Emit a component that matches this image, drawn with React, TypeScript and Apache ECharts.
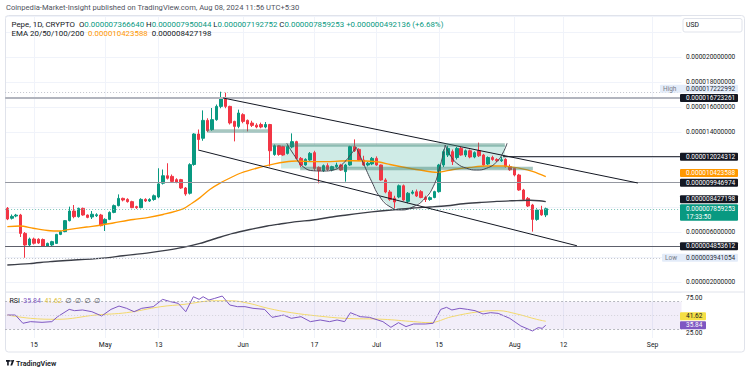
import React, { useEffect, useRef } from 'react';
import * as echarts from 'echarts';

const FONT = 'Roboto, "Noto Sans", "DejaVu Sans", sans-serif';
const UP = '#089981';
const DOWN = '#f23645';
const ORANGE = '#ff9800';
const DARK = '#131722';
const ZONE = '#cfebe6';
const BAND = 'rgba(60,130,115,0.45)';

// Daily candles, price in 1e-6 USD: [open, high, low, close], from 2024-04-09
const ohlc: number[][] = [
  // April
  [7.89, 8.0, 6.95, 7.04], [7.1, 7.4, 7.0, 7.25], [7.28, 7.45, 7.18, 7.35], [7.36, 7.45, 5.6, 5.89],
  [5.89, 6.0, 3.941054, 4.96], [4.96, 5.55, 4.85, 5.44], [5.44, 5.55, 5.0, 5.1], [5.42, 5.5, 5.05, 5.12],
  [5.4, 5.48, 4.8, 4.88], [4.88, 5.15, 4.8, 5.09], [4.96, 5.3, 4.85, 5.23], [5.09, 5.85, 5.05, 5.81],
  [5.81, 6.1, 5.75, 6.03], [6.03, 6.95, 5.98, 6.91], [6.91, 8.03, 6.85, 7.68], [7.68, 8.16, 7.1, 7.23],
  [7.23, 7.95, 7.15, 7.89], [7.89, 7.95, 7.3, 7.36], [7.36, 7.4, 7.1, 7.17], [7.2, 7.68, 7.04, 7.42],
  [7.3, 7.5, 7.2, 7.38], [7.36, 7.45, 6.45, 6.51],
  // May
  [6.69, 7.1, 6.08, 7.01], [7.01, 7.65, 6.95, 7.57], [7.57, 8.2, 7.5, 8.11], [8.11, 9.01, 8.05, 8.69],
  [8.69, 8.75, 8.45, 8.56], [8.61, 8.7, 8.35, 8.43], [8.43, 8.5, 7.9, 7.95], [8.03, 8.1, 7.85, 7.95],
  [7.95, 8.7, 7.9, 8.61], [8.61, 8.7, 8.4, 8.48], [8.48, 8.7, 8.4, 8.6], [8.6, 9.0, 8.5, 8.9],
  [8.8, 11.1, 8.7, 9.85], [9.9, 11.0, 9.8, 10.5], [10.5, 11.5, 10.2, 10.3], [10.45, 10.6, 9.95, 10.05],
  [10.19, 10.3, 9.9, 9.97], [10.19, 10.25, 9.45, 9.52], [9.52, 9.6, 8.9, 9.04], [9.1, 11.5, 9.0, 11.39],
  [11.4, 13.9, 11.3, 13.84], [13.84, 14.2, 12.6, 13.4], [13.5, 15.73, 13.3, 14.93], [14.93, 15.1, 14.0, 14.11],
  [14.19, 15.92, 14.1, 14.99], [14.99, 16.2, 14.9, 16.05], [16.05, 17.222992, 15.9, 16.72], [16.67, 17.15, 15.9, 16.05],
  [16.05, 16.1, 14.6, 14.72], [14.85, 14.9, 13.25, 14.45], [14.45, 15.79, 14.3, 15.52],
  // June
  [15.39, 15.5, 14.7, 14.85], [14.93, 15.0, 14.05, 14.64], [14.72, 14.9, 14.4, 14.53], [14.55, 14.7, 14.3, 14.4],
  [14.6, 14.75, 14.3, 14.4], [14.4, 14.8, 14.3, 14.6], [14.6, 14.65, 11.25, 12.5], [12.2, 13.0, 12.1, 12.9],
  [12.9, 12.95, 12.1, 12.2], [12.83, 12.9, 12.1, 12.16], [12.29, 12.95, 12.2, 12.83], [12.8, 13.89, 12.7, 13.23],
  [13.23, 13.3, 11.8, 11.89], [11.89, 12.0, 11.2, 11.36], [11.36, 11.9, 11.3, 11.81], [11.76, 12.4, 11.7, 12.29],
  [12.35, 12.5, 10.9, 11.09], [11.17, 11.25, 9.89, 10.91], [10.91, 11.4, 10.8, 11.31], [11.31, 11.5, 10.9, 11.0],
  [10.96, 11.3, 10.85, 11.23], [11.23, 11.55, 11.1, 11.36], [11.36, 11.45, 10.9, 10.96], [10.83, 11.45, 10.03, 11.36],
  [11.36, 12.9, 11.3, 12.83], [12.83, 13.41, 12.4, 12.5], [12.61, 12.7, 11.7, 11.76], [11.76, 12.1, 11.3, 11.36],
  [11.36, 11.6, 11.25, 11.5], [11.45, 12.0, 11.35, 11.89],
  // July
  [11.89, 12.05, 11.3, 11.36], [11.36, 11.4, 10.1, 10.16], [10.16, 10.3, 9.1, 9.2], [9.2, 9.36, 8.5, 8.6],
  [8.7, 8.9, 7.9, 8.4], [8.8, 9.8, 8.7, 9.7], [9.7, 9.8, 8.5, 8.56], [8.45, 9.2, 8.3, 9.1],
  [9.1, 9.35, 9.0, 9.2], [9.22, 9.4, 8.8, 8.88], [9.23, 9.35, 8.7, 8.76], [8.76, 8.9, 8.4, 8.6],
  [8.6, 8.85, 8.5, 8.75], [8.76, 9.3, 8.7, 9.23], [9.23, 11.45, 9.15, 11.36], [11.36, 12.6, 11.2, 12.43],
  [12.16, 12.9, 12.0, 12.69], [12.43, 12.6, 11.36, 11.63], [11.96, 12.8, 11.8, 12.69], [12.69, 12.8, 12.1, 12.16],
  [12.16, 12.6, 12.0, 12.5], [12.5, 12.6, 11.9, 12.0], [12.0, 12.45, 11.9, 12.35], [12.5, 13.15, 12.0, 12.1],
  [12.16, 12.25, 11.3, 11.36], [11.44, 12.05, 11.35, 11.96], [11.96, 12.1, 11.7, 11.8], [11.8, 11.9, 11.6, 11.7],
  [11.7, 12.0, 11.6, 11.78], [11.81, 11.9, 11.15, 11.23], [11.23, 11.4, 10.9, 10.98],
  // August
  [11.09, 11.2, 10.45, 10.56], [10.56, 10.65, 9.3, 9.36], [9.36, 9.45, 8.55, 8.61], [8.69, 8.8, 8.0, 8.08],
  [8.16, 8.25, 6.03, 7.01], [7.01, 7.9, 6.9, 7.76], [7.76, 8.1, 7.3, 7.367117],
  [7.36664, 7.950044, 7.192752, 7.859253],
];

const START = [2024, 3, 9];
const DAYS = 152;
const tickDates = ['2024-04-15', '2024-05-01', '2024-05-13', '2024-06-01', '2024-06-17', '2024-07-01', '2024-07-15', '2024-08-01', '2024-08-12', '2024-09-01'];
const tickLabels = ['15', 'May', '13', 'Jun', '17', 'Jul', '15', 'Aug', '12', 'Sep'];
const priceTicks = [2, 6, 14, 16, 18, 20];
const rsiTicks = [25, 75];

// [day index, value]
const ema50Pts = [
  [0, 6.43], [2.9, 6.48], [5.8, 6.3], [9.6, 6.1], [11.8, 6.08], [13.3, 6.17], [17.8, 6.4], [20.8, 6.54],
  [23.8, 6.72], [28.3, 7.0], [31.5, 7.15], [35, 7.4], [39.5, 7.85], [41.5, 8.3], [43.3, 8.75], [45.5, 9.4],
  [48, 9.95], [50.5, 10.4], [52.5, 10.72], [56, 11.1], [60, 11.45], [62.4, 11.6], [65, 11.68], [68.7, 11.63],
  [71.8, 11.63], [74.8, 11.68], [77.5, 11.7], [80.5, 11.68], [83.5, 11.6], [86, 11.4], [88.5, 11.22],
  [92.7, 10.96], [96.6, 10.77], [100.2, 11.0], [104, 11.17], [107.7, 11.28], [111.5, 11.28], [115.2, 11.09],
  [118.2, 10.83], [121, 10.423588],
];
const ema200Pts = [
  [0, 3.36], [5, 3.47], [9.6, 3.63], [13.3, 3.72], [20.8, 3.89], [26, 4.1], [32.1, 4.35], [36, 4.55],
  [39.5, 4.77], [43.3, 5.09], [47, 5.5], [50.7, 5.89], [54.5, 6.2], [58.4, 6.48], [61.3, 6.64], [65, 6.83],
  [68.7, 6.96], [72.5, 7.18], [76.3, 7.36], [80, 7.53], [83.8, 7.68], [87.5, 7.8], [91.2, 7.92], [95, 8.0],
  [98.8, 8.1], [102.5, 8.26], [106.2, 8.36], [110, 8.45], [113.6, 8.5], [117.5, 8.54], [119.5, 8.5], [121, 8.427198],
];
const rsiPts = [
  [0, 50.7], [1.8, 50.7], [3.5, 38.7], [5.2, 41.1], [7.8, 40.1], [10, 41.1], [11.3, 48.3], [13.9, 58.9],
  [15.1, 57], [16.9, 58], [19, 55.5], [21.2, 49.3], [23.3, 58.9], [25.1, 63.7], [26.8, 60.4], [28.5, 55.5],
  [30.2, 60.4], [32.8, 62.8], [34.9, 73.4], [36.7, 70], [38.4, 67.6], [40.1, 55.5], [41.8, 77.2], [43.1, 73.4],
  [44, 77.2], [45.3, 72.4], [46.6, 74.8], [48.3, 78.2], [50, 65.2], [51.7, 62.8], [53.4, 62.8], [55.2, 60.4],
  [57.8, 58.9], [59.5, 47.3], [62.1, 50.7], [63.8, 45.9], [66, 48.3], [68.1, 41.1], [70.3, 43.5], [72.4, 41.1],
  [74.1, 43.5], [75.8, 41.1], [77.1, 54.1], [79.3, 48.3], [81.4, 47.3], [84.4, 41.1], [86.2, 32.9], [87.9, 39.6],
  [89.6, 33.9], [91.3, 37.7], [93.9, 37.7], [95.7, 38.7], [97.4, 58.9], [98.7, 61.8], [99.9, 58], [101.7, 60.4],
  [103.4, 58.9], [105.1, 57], [106.9, 52.2], [108.6, 54.1], [110.3, 53.1], [112.9, 45.9], [115.4, 34.8],
  [118, 27.6], [119.3, 32.4], [120.2, 31.4], [121, 35.84],
];
const rsiMaPts = [
  [0, 50.7], [5.2, 45.9], [11.3, 44.5], [19.9, 50.7], [26.8, 54.1], [34.5, 62.8], [39.7, 66.1], [46.6, 71.4],
  [50, 71.4], [54.3, 67.6], [58.6, 60.4], [63.8, 54.1], [69.8, 49.3], [75.8, 45.9], [84.4, 44.5], [91.3, 41.1],
  [94.8, 39.6], [99.9, 48.3], [106, 55.5], [110.3, 57], [114.5, 52.2], [118.9, 44.5], [121, 41.62],
];

// drawings, [day index, price]
const upperChannel = [[48.5, 16.72], [141.7, 9.92]];
const lowerChannel = [[42.9, 12.56], [128, 4.9]];
const smallCup = [[62.8, 13.1], [64.7, 12.02], [66.5, 11.22], [68.8, 10.9], [71.0, 10.88], [73.3, 10.96], [75.5, 11.5], [77.4, 12.3], [78.4, 12.78]];
const bigCup = [[78.4, 12.78], [80.0, 11.5], [81.9, 10.02], [83.7, 8.82], [86.0, 8.02], [88.6, 7.76], [91.2, 8.02], [93.5, 8.56], [95.7, 9.62], [97.2, 11.22], [98.0, 12.3], [98.4, 12.96]];
const handleCup = [[98.4, 12.96], [99.5, 12.16], [101.0, 11.5], [103.2, 11.1], [105.5, 10.96], [107.7, 11.1], [110.0, 11.62], [111.5, 12.42], [112.3, 13.1]];
const zoneRect = [61.5, 111.8, 12.96, 11.08];
const bands = [[44.9, 58.6, 14.08], [59.5, 111.8, 12.96], [65.8, 118.1, 11.08]];

const levelHigh = 17.222992;
const levelR1 = 16.723261;
const levelR2 = 12.024312;
const levelR2Start = 111.4;
const levelS1 = 9.946974;
const levelS2 = 4.853612;
const levelLow = 3.941054;
const ema50Last = 10.423588;
const ema200Last = 8.427198;
const rsiLast = 35.84;
const rsiMaLast = 41.62;
const clock = '17:33:50';

const fmt = (v: number) => (v * 1e-6).toFixed(12);

echarts.graphic.registerShape(
  'tvlogo',
  echarts.graphic.extendPath(
    'M0 0H6.5V2.8H4.6V9H1.9V2.8H0Z M10.6 0H13.8L10.3 9H7.2Z M9.9 1.4a1.4 1.4 0 1 1-2.8 0a1.4 1.4 0 1 1 2.8 0Z',
    {}
  )
);

export default function App() {
  const ref = useRef<HTMLDivElement>(null);
  useEffect(() => {
    document.body.style.margin = '0';
    const chart = echarts.init(ref.current!, undefined, { renderer: 'svg' });
    const dates = Array.from({ length: DAYS }, (_, i) =>
      new Date(Date.UTC(START[0], START[1], START[2] + i)).toISOString().slice(0, 10)
    );
    const tickIdx = tickDates.map((d) => dates.indexOf(d));
    const candles = ohlc.map(([o, h, l, c]) => [o, c, l, h]);
    const last = ohlc[ohlc.length - 1];
    const prevClose = ohlc[ohlc.length - 2][3];
    const chg = last[3] - prevClose;
    const L = 5.1;
    const W = 676.4;
    const thinLine = (data: number[][], color: string, width = 1, smooth: number | boolean = false, z = 5) => ({
      type: 'line', xAxisIndex: 1, yAxisIndex: 0, data, smooth, showSymbol: false, symbol: 'none', silent: true, z,
      lineStyle: { color, width },
    });
    const valueX = (grid: number) => ({
      type: 'value', gridIndex: grid, min: -0.5, max: DAYS - 0.5,
      axisLine: { show: false }, axisLabel: { show: false },
      axisTick: { show: false, customValues: tickIdx },
      splitLine: { show: true, lineStyle: { color: '#f0f3fa', width: 1 } },
    });

    const option: any = {
      animation: false,
      grid: [
        { left: L, top: 16, width: W, height: 276 },
        { left: L, top: 292, width: W, height: 46 },
      ],
      xAxis: [
        { type: 'category', gridIndex: 0, data: dates, axisLine: { show: false }, axisTick: { show: false }, axisLabel: { show: false }, splitLine: { show: false } },
        valueX(0),
        {
          type: 'category', gridIndex: 1, data: dates, axisLine: { show: false }, axisTick: { show: false }, splitLine: { show: false },
          axisLabel: {
            interval: (_i: number, v: string) => tickDates.includes(v),
            formatter: (v: string) => tickLabels[tickDates.indexOf(v)] ?? '',
            fontSize: 6.8, color: DARK, margin: 3.5, fontFamily: FONT,
          },
        },
        valueX(1),
      ],
      yAxis: [
        {
          type: 'value', gridIndex: 0, position: 'right', min: 1.2, max: 23.28, splitNumber: 11,
          axisLine: { show: false }, axisTick: { show: false },
          axisLabel: { customValues: priceTicks, formatter: (v: number) => fmt(v), fontSize: 6.5, color: DARK, margin: 4.5, align: 'left', fontFamily: FONT },
          splitLine: { lineStyle: { color: '#f0f3fa', width: 1 } },
        },
        {
          type: 'value', gridIndex: 1, position: 'right', min: 17.39, max: 84.06,
          axisLine: { show: false }, axisTick: { show: false },
          axisLabel: { customValues: rsiTicks, formatter: (v: number) => v.toFixed(2), fontSize: 6.5, color: DARK, margin: 4.5, align: 'left', fontFamily: FONT },
          splitLine: { show: false },
        },
      ],
      series: [
        {
          type: 'custom', xAxisIndex: 1, yAxisIndex: 0, data: [[0, 12]], silent: true, z: 1,
          renderItem: (_p: any, api: any) => {
            const [x0, x1, top, bottom] = zoneRect;
            const rect = [[x0, top], [x1, top], [x1, bottom], [x0, bottom]].map((p) => api.coord(p));
            const cup = bigCup.map((p) => api.coord(p));
            return {
              type: 'group',
              children: [
                { type: 'polygon', shape: { points: rect }, style: { fill: ZONE } },
                { type: 'polygon', shape: { points: cup }, style: { fill: ZONE } },
              ],
            };
          },
        },
        {
          type: 'candlestick', xAxisIndex: 0, yAxisIndex: 0, data: candles, barWidth: 3, z: 3, silent: true,
          itemStyle: { color: UP, color0: DOWN, borderColor: UP, borderColor0: DOWN, borderWidth: 1 },
        },
        {
          ...thinLine(ema200Pts, '#3b3e47', 1.4, 0.3, 4),
          markLine: {
            symbol: ['none', 'none'], silent: true, label: { show: false },
            data: [
              { yAxis: levelHigh, lineStyle: { color: '#c1c4cd', type: [1, 2], width: 1 } },
              { yAxis: levelR1, lineStyle: { color: '#b2b5be', type: 'solid', width: 2 } },
              { yAxis: levelS1, lineStyle: { color: '#9598a1', type: 'solid', width: 1 } },
              { yAxis: levelS2, lineStyle: { color: '#5d606b', type: 'solid', width: 1 } },
              { yAxis: levelLow, lineStyle: { color: '#c1c4cd', type: [1, 2], width: 1 } },
              { yAxis: last[3], lineStyle: { color: '#7cc4b8', type: [1, 2], width: 1 } },
            ],
          },
        },
        thinLine(ema50Pts, ORANGE, 1.3, 0.3, 4),
        thinLine([[levelR2Start, levelR2], [DAYS - 0.5, levelR2]], DARK, 1),
        thinLine(upperChannel, DARK, 1),
        thinLine(lowerChannel, DARK, 1),
        ...bands.map(([a, b, v]) => thinLine([[a, v], [b, v]], BAND, 3.5)),
        thinLine(smallCup, '#434651', 1, 0.5, 6),
        thinLine(bigCup, '#434651', 1, 0.5, 6),
        thinLine(handleCup, '#434651', 1, 0.5, 6),
        {
          type: 'line', xAxisIndex: 3, yAxisIndex: 1, data: rsiMaPts, smooth: 0.4, showSymbol: false, symbol: 'none', silent: true, z: 3,
          lineStyle: { color: '#f3d96b', width: 1 },
          markArea: { silent: true, itemStyle: { color: 'rgba(126,87,194,0.1)' }, data: [[{ yAxis: 30 }, { yAxis: 70 }]] },
          markLine: {
            symbol: ['none', 'none'], silent: true, label: { show: false },
            data: [
              { yAxis: 70, lineStyle: { color: '#a3a6af', type: [2, 2], width: 0.8 } },
              { yAxis: 50, lineStyle: { color: '#c9cbd2', type: [1, 2], width: 0.8 } },
              { yAxis: 30, lineStyle: { color: '#a3a6af', type: [2, 2], width: 0.8 } },
            ],
          },
        },
        {
          type: 'line', xAxisIndex: 3, yAxisIndex: 1, data: rsiPts, showSymbol: false, symbol: 'none', silent: true, z: 4,
          lineStyle: { color: '#7e57c2', width: 1 },
        },
      ],
    };
    chart.setOption(option);

    const py = (v: number) => chart.convertToPixel({ yAxisIndex: 0 }, v) as unknown as number;
    const ry = (v: number) => chart.convertToPixel({ yAxisIndex: 1 }, v) as unknown as number;
    const txt = (x: number, y: number, text: string, fill: string, size = 6.5, extra: any = {}) => ({
      type: 'text', x, y, z: 101, silent: true,
      style: { text, fill, fontSize: size, fontFamily: FONT, verticalAlign: 'middle', align: 'left', ...extra },
    });
    const box = (y: number, text: string, bg: string, fg: string, x0 = 680, w = 58, h = 8) => [
      { type: 'rect', z: 100, silent: true, shape: { x: x0, y: y - h / 2, width: w, height: h, r: 1 }, style: { fill: bg } },
      txt(686, y, text, fg),
    ];
    const yHigh = py(levelHigh) - 3;
    const yLow = py(levelLow);
    const yLast = py(last[3]);
    const rich = (size: number) => ({
      d: { fill: DARK, fontSize: size, fontFamily: FONT },
      g: { fill: UP, fontSize: size, fontFamily: FONT },
      o: { fill: ORANGE, fontSize: size, fontFamily: FONT },
      p: { fill: '#7e57c2', fontSize: size, fontFamily: FONT },
      y: { fill: '#e0c23a', fontSize: size, fontFamily: FONT },
      m: { fill: '#50535e', fontSize: size, fontFamily: FONT },
    });
    const headerLine2 =
      `{d|Pepe, 1D, CRYPTO}  {d|O}{g|${fmt(last[0])}} {d|H}{g|${fmt(last[1])}} {d|L}{g|${fmt(last[2])}} {d|C}{g|${fmt(last[3])}} ` +
      `{g|+${fmt(chg)} (+${((chg / prevClose) * 100).toFixed(2)}%)}`;
    const headerLine3 = `{d|EMA 20/50/100/200}  {o|${fmt(ema50Last)}}  {d|${fmt(ema200Last)}}`;
    const rsiLegend = `{d|RSI}  {p|${rsiLast.toFixed(2)}}  {y|${rsiMaLast.toFixed(2)}}  {m|∅  ∅  ∅  ∅}`;

    const graphic: any[] = [
      { type: 'rect', silent: true, z: 0, shape: { x: 5.5, y: 15.5, width: 739, height: 336.5, r: 3 }, style: { fill: 'none', stroke: '#e0e3eb', lineWidth: 1 } },
      { type: 'line', silent: true, z: 0, shape: { x1: 5.5, y1: 292, x2: 744.5, y2: 292 }, style: { stroke: '#e0e3eb', lineWidth: 1 } },
      txt(6, 7.5, 'Coinpedia-Market-Insight published on TradingView.com, Aug 08, 2024 11:56 UTC+5:30', '#50535e', 7.6),
      { type: 'text', x: 11.5, y: 24.3, z: 101, silent: true, style: { text: headerLine2, rich: rich(7.9), fontSize: 7.9, fontFamily: FONT, verticalAlign: 'middle', align: 'left' } },
      { type: 'text', x: 11.5, y: 33.8, z: 101, silent: true, style: { text: headerLine3, rich: rich(7.9), fontSize: 7.9, fontFamily: FONT, verticalAlign: 'middle', align: 'left' } },
      { type: 'text', x: 9.5, y: 300.5, z: 101, silent: true, style: { text: rsiLegend, rich: rich(7), fontSize: 7, fontFamily: FONT, verticalAlign: 'middle', align: 'left' } },
      { type: 'rect', z: 100, silent: true, shape: { x: 683, y: 18.5, width: 59, height: 13.5, r: 2 }, style: { fill: '#fff', stroke: '#e0e3eb', lineWidth: 1 } },
      txt(686, 25.3, 'USD', DARK, 6.8),
      // High / Low
      { type: 'rect', z: 100, silent: true, shape: { x: 660, y: yHigh - 4, width: 78, height: 8, r: 1 }, style: { fill: '#e3ecf9' } },
      txt(663, yHigh, 'High', '#787b86'),
      txt(686, yHigh, fmt(levelHigh), '#2a2e39'),
      { type: 'rect', z: 100, silent: true, shape: { x: 662, y: yLow - 4, width: 76, height: 8, r: 1 }, style: { fill: '#e3ecf9' } },
      txt(665, yLow, 'Low', '#787b86'),
      txt(686, yLow, fmt(levelLow), '#2a2e39'),
      ...box(py(levelR1), fmt(levelR1), DARK, '#fff'),
      ...box(py(levelR2), fmt(levelR2), DARK, '#fff'),
      ...box(py(ema50Last) - 3.7, fmt(ema50Last), ORANGE, '#fff'),
      ...box(py(levelS1), fmt(levelS1), DARK, '#fff'),
      ...box(py(ema200Last) - 2.4, fmt(ema200Last), DARK, '#fff'),
      ...box(py(levelS2), fmt(levelS2), DARK, '#fff'),
      { type: 'rect', z: 100, silent: true, shape: { x: 680, y: yLast - 4.5, width: 58, height: 16.5, r: 1 }, style: { fill: UP } },
      txt(686, yLast, fmt(last[3]), '#fff'),
      txt(686, yLast + 8.2, clock, '#fff'),
      // RSI markers
      ...box(ry(rsiMaLast) - 5, rsiMaLast.toFixed(2), '#f5df45', DARK, 680, 26),
      ...box(ry(rsiLast), rsiLast.toFixed(2), '#7e57c2', '#fff', 680, 26),
      // TradingView mark
      { type: 'tvlogo', x: 6, y: 360, scaleX: 0.6, scaleY: 0.6, silent: true, style: { fill: DARK } },
      txt(16, 363, 'TradingView', DARK, 7.2, { fontWeight: 600 }),
    ];
    chart.setOption({ graphic });
    return () => chart.dispose();
  }, []);
  return <div ref={ref} style={{ width: 750, height: 372 }} />;
}
